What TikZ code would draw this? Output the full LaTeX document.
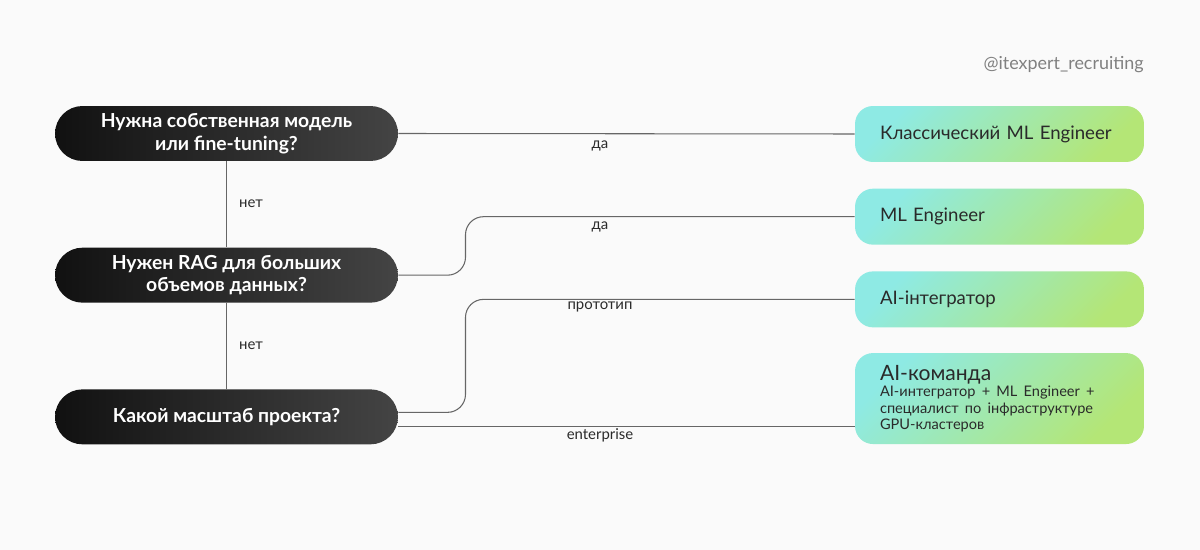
\documentclass[tikz,border=0pt]{standalone}
\usepackage{fontspec}
\setmainfont{Lato}
\usetikzlibrary{positioning,calc}
\definecolor{bg}{HTML}{FAFAFA}
\definecolor{pillL}{HTML}{111111}
\definecolor{pillR}{HTML}{444444}
\definecolor{mint}{HTML}{8EEAE4}
\definecolor{lime}{HTML}{B4E676}
\definecolor{wire}{HTML}{666666}
\definecolor{ink}{HTML}{2A2A2A}
\newcommand{\nohyph}{\hyphenpenalty10000\relax}

\begin{document}
\begin{tikzpicture}[x=0.02cm, y=-0.02cm,
  question/.style={rectangle, rounded corners=0.55cm, minimum width=6.86cm, minimum height=1.1cm, inner sep=0pt, align=center, left color=pillL, right color=pillR, text=white, font=\bfseries\fontsize{11}{13}\selectfont},
  role/.style={rectangle, rounded corners=0.36cm, minimum height=1.12cm, text width=4.98cm, inner xsep=0.4cm, align=left, left color=mint, right color=lime, shading angle=45, text=ink, font={\fontsize{10.6}{12.5}\selectfont\nohyph}},
  lbl/.style={font=\fontsize{8.5}{10}\selectfont, text=ink, inner sep=1pt},
  wire/.style={draw=wire, line width=0.6pt, rounded corners=0.36cm}
]
\fill[bg] (0,0) rectangle (1200,550);

% questions
\node[question] (q1) at (226.5,133.5) {Нужна собственная модель\\или fine-tuning?};
\node[question, below=1.72cm of q1] (q2) {Нужен RAG для больших\\объемов данных?};
\node[question, below=1.72cm of q2] (q3) {Какой масштаб проекта?};

% roles
\node[role] (r1) at (999.5,134) {\hspace*{0.1cm}Классический ML Engineer};
\node[role, below=0.52cm of r1] (r2) {\hspace*{0.1cm}ML Engineer};
\node[role, below=0.52cm of r2] (r3) {\hspace*{0.1cm}AI-інтегратор};
\node[role, below=0.5cm of r3, minimum height=1.82cm] (r4) {\leftskip0.1cm\lineskiplimit-6pt\relax
  \fontsize{12}{14}\selectfont AI-команда\par
  \fontsize{8.3}{9.4}\selectfont AI-интегратор + ML Engineer +\par специалист по інфраструктуре\par GPU-кластеров\par};

\node[font=\fontsize{10.2}{12}\selectfont, text=gray, anchor=east, inner sep=0pt] (tag) at (1144,65) {@itexpert\_recruiting};

% connectors
\coordinate (fork) at (465.5,0);
\coordinate (q3hi) at ([yshift=0.09cm]q3.east);
\coordinate (q3lo) at ([yshift=-0.2cm]q3.east);
\draw[wire] (q1.east) -- (r1.west);
\draw[wire] (q1.south) -- (q2.north);
\draw[wire] (q2.south) -- (q3.north);
\draw[wire] (q2.east) -| (fork |- r2.west) -- (r2.west);
\draw[wire] (q3hi) -| (fork |- r3.west) -- (r3.west);
\draw[wire] (q3lo) -- (q3lo -| r4.west);

\node[lbl] (yes1) at (600,146) {да};
\node[lbl] (yes2) at (600,227) {да};
\node[lbl] (proto) at (600,307) {прототип};
\node[lbl] (ent) at (600,435) {enterprise};
\node[lbl, anchor=west] (no1) at (237,204) {нет};
\node[lbl, anchor=west] (no2) at (237,346) {нет};
\end{tikzpicture}
\end{document}
